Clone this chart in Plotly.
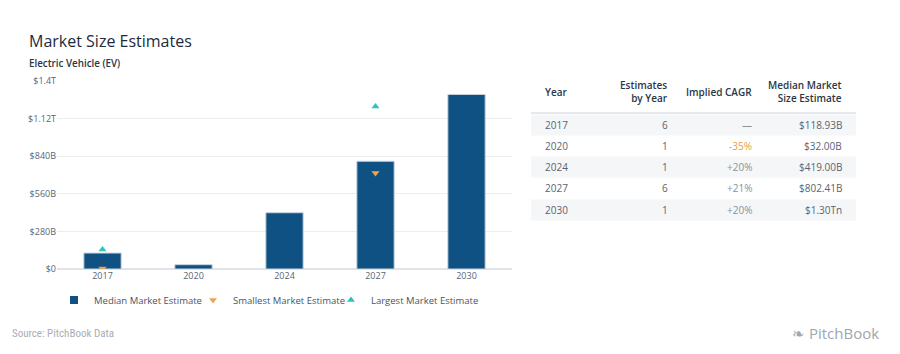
import plotly.graph_objects as go

years = ["2017", "2020", "2024", "2027", "2030"]
median_est = [118.93e9, 32.00e9, 419.00e9, 802.41e9, 1.30e12]
smallest_est = [3e9, None, None, 715e9, None]
largest_est = [145e9, None, None, 1210e9, None]
estimates_by_year = ["6", "1", "1", "6", "1"]
implied_cagr = ["—", "-35%", "+20%", "+21%", "+20%"]
median_labels = ["$118.93B", "$32.00B", "$419.00B", "$802.41B", "$1.30Tn"]
ytick_vals = [0, 280e9, 560e9, 840e9, 1120e9, 1400e9]
ytick_text = ["$0", "$280B", "$560B", "$840B", "$1.12T", "$1.4T"]

W, H = 900, 354
L, R, T, B = 57, 512, 81, 269

def px(x):
    return (x - L) / (R - L)

def py(y):
    return (B - y) / (B - T)

FONT = "Open Sans"
BAR_COLOR = "#0f5183"
fig = go.Figure()
fig.add_trace(go.Bar(
    x=years, y=median_est, name="Median Market Estimate",
    marker=dict(color=BAR_COLOR, line=dict(color="#c9d3dc", width=1)),
    width=0.41, showlegend=False, legendgroup="median",
))
# legend entry for the bars with a small square symbol
fig.add_trace(go.Scatter(
    x=[None], y=[None], name="Median Market Estimate", mode="markers",
    marker=dict(symbol="square", color=BAR_COLOR, size=8), legendgroup="median",
    legend="legend",
))
fig.add_trace(go.Scatter(
    x=years, y=smallest_est, name="Smallest Market Estimate", mode="markers",
    marker=dict(symbol="triangle-down", color="#e8a552", size=7),
    legend="legend2",
))
fig.add_trace(go.Scatter(
    x=years, y=largest_est, name="Largest Market Estimate", mode="markers",
    marker=dict(symbol="triangle-up", color="#2bc4bb", size=7),
    legend="legend3",
))

shapes = []
annotations = []
# Title and subtitle
annotations.append(dict(text="Market Size Estimates", x=px(27), y=py(41), xref="paper", yref="paper",
                        xanchor="left", yanchor="middle", showarrow=False,
                        font=dict(family=FONT, size=16, color="#1e2b3c")))
annotations.append(dict(text="Electric Vehicle (EV)", x=px(27), y=py(64), xref="paper", yref="paper",
                        xanchor="left", yanchor="middle", showarrow=False,
                        font=dict(family=FONT, size=9.8, color="#2b3645", weight=600)))
annotations.append(dict(text="Source: PitchBook Data", x=px(10), y=py(333), xref="paper", yref="paper",
                        xanchor="left", yanchor="middle", showarrow=False,
                        font=dict(family="Liberation Sans Narrow, Roboto Condensed, DejaVu Sans Condensed", size=11, color="#a8adb4")))
annotations.append(dict(text="\u2767 PitchBook", x=px(881), y=py(333), xref="paper", yref="paper",
                        xanchor="right", yanchor="middle", showarrow=False,
                        font=dict(family="Open Sans", size=15, color="#a0a6ae")))

# Table
row_y = [125, 146, 167, 188, 210]
row_h = 21
tx0, tx1 = 531, 856
col_year_x = 543
col_est_x = 670
col_cagr_x = 754
col_med_x = 844
hdr_font = dict(family=FONT, size=10, color="#2b3645", weight=600)
cell_font = dict(family=FONT, size=10, color="#5a6472")

for i, yc in enumerate(row_y):
    if i % 2 == 0:
        shapes.append(dict(type="rect", xref="paper", yref="paper",
                           x0=px(tx0), x1=px(tx1), y0=py(yc - row_h / 2), y1=py(yc + row_h / 2),
                           fillcolor="#f5f6f8", line=dict(width=0), layer="below"))
shapes.append(dict(type="line", xref="paper", yref="paper", x0=px(tx0), x1=px(tx1),
                   y0=py(113), y1=py(113), line=dict(color="#dde2e8", width=1.5)))

def hdr(text, x, anchor):
    annotations.append(dict(text=text, x=px(x), y=py(92), xref="paper", yref="paper",
                            xanchor=anchor, yanchor="middle", align=anchor, showarrow=False,
                            font=hdr_font))

hdr("Year", col_year_x, "left")
hdr("Estimates<br>by Year", col_est_x, "right")
hdr("Implied CAGR", col_cagr_x, "right")
hdr("Median Market<br>Size Estimate", col_med_x, "right")

for i, yc in enumerate(row_y):
    annotations.append(dict(text=years[i], x=px(col_year_x), y=py(yc), xref="paper", yref="paper",
                            xanchor="left", yanchor="middle", showarrow=False, font=cell_font))
    annotations.append(dict(text=estimates_by_year[i], x=px(col_est_x), y=py(yc), xref="paper", yref="paper",
                            xanchor="right", yanchor="middle", showarrow=False, font=cell_font))
    c = implied_cagr[i]
    color = "#e3a03a" if c.startswith("-") else "#8a929c"
    annotations.append(dict(text=c, x=px(col_cagr_x), y=py(yc), xref="paper", yref="paper",
                            xanchor="right", yanchor="middle", showarrow=False,
                            font=dict(family=FONT, size=10, color=color)))
    annotations.append(dict(text=median_labels[i], x=px(col_med_x), y=py(yc), xref="paper", yref="paper",
                            xanchor="right", yanchor="middle", showarrow=False, font=cell_font))

def legend_at(xpix):
    return dict(orientation="h", x=px(xpix), y=py(300), xanchor="left", yanchor="middle",
                font=dict(family=FONT, size=9.5, color="#4a5462"), itemwidth=30,
                bgcolor="rgba(0,0,0,0)")

fig.update_layout(
    width=W, height=H,
    margin=dict(l=L, r=W - R, t=T, b=H - B, pad=0),
    paper_bgcolor="white", plot_bgcolor="white",
    font=dict(family=FONT, size=9, color="#5a6472"),
    bargap=0.59,
    showlegend=True,
    legend=legend_at(54),
    legend2=legend_at(193),
    legend3=legend_at(331),
    xaxis=dict(type="category", categoryorder="array", categoryarray=years,
               showgrid=False, zeroline=False, showline=False, ticks="",
               tickfont=dict(size=9, color="#5a6472"), fixedrange=True),
    yaxis=dict(range=[0, 1.4e12], tickvals=ytick_vals, ticktext=ytick_text,
               showgrid=True, gridcolor="#ebedf0", gridwidth=1, zeroline=True,
               zerolinecolor="#e0e3e7", showline=False, ticks="",
               tickfont=dict(size=9, color="#5a6472"), fixedrange=True),
    shapes=shapes, annotations=annotations,
)

fig.write_html("out.html")
